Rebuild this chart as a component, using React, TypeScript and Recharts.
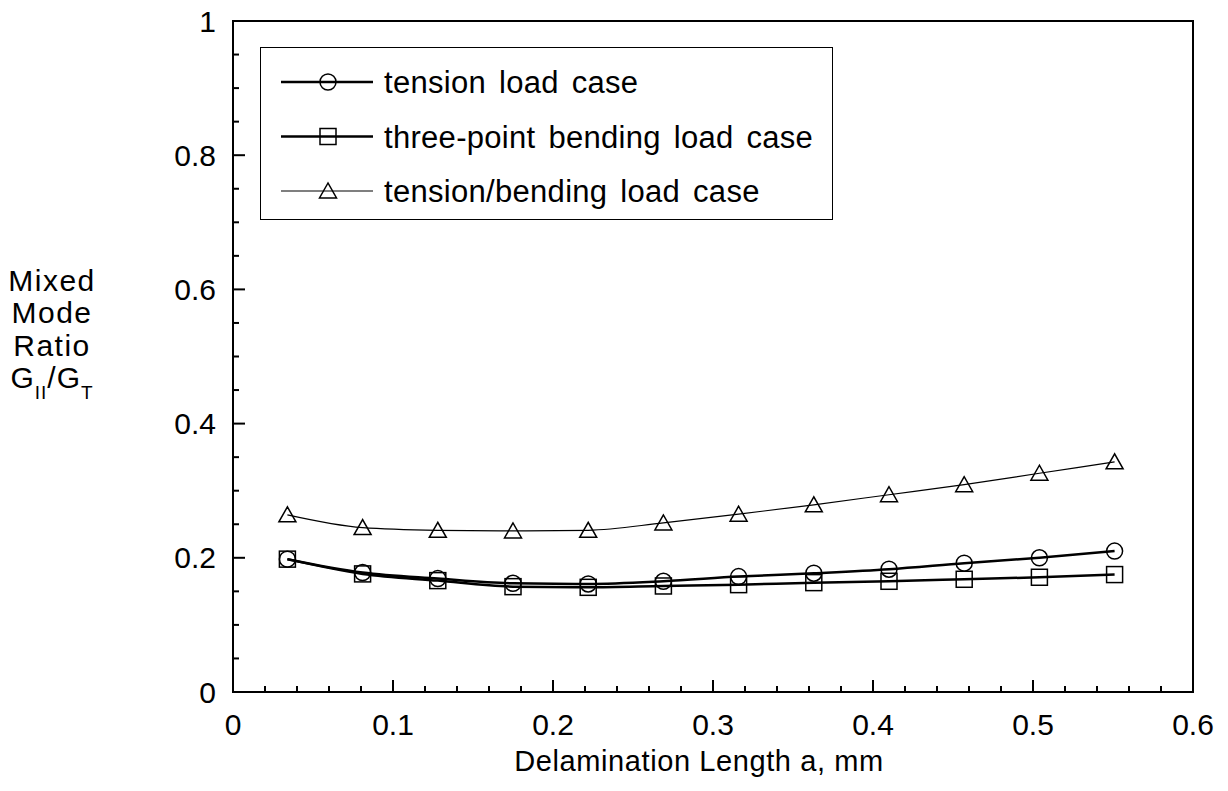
import React from 'react';
import { LineChart, Line, XAxis, YAxis, Legend, ReferenceArea } from 'recharts';

// delamination length a (mm) at each computed point
const xValues = [0.034, 0.081, 0.128, 0.175, 0.222, 0.269, 0.316, 0.363, 0.41, 0.457, 0.504, 0.551];
// mixed mode ratio GII/GT per load case
const tension = [0.198, 0.178, 0.169, 0.162, 0.161, 0.165, 0.172, 0.177, 0.183, 0.192, 0.2, 0.21];
const threePoint = [0.198, 0.176, 0.166, 0.157, 0.156, 0.158, 0.16, 0.163, 0.165, 0.168, 0.171, 0.175];
const tensionBending = [0.264, 0.245, 0.241, 0.24, 0.241, 0.252, 0.265, 0.279, 0.294, 0.309, 0.326, 0.343];

const seriesKeys = ['tension', 'threePoint', 'tensionBending'];
const seriesNames = ['tension load case', 'three-point bending load case', 'tension/bending load case'];

// axis ticks: majors get labels, minors only a short tick
const xMajor = [0, 0.1, 0.2, 0.3, 0.4, 0.5, 0.6];
const yMajor = [0, 0.2, 0.4, 0.6, 0.8, 1];
const xTicks = Array.from({ length: 31 }, (_, i) => Math.round(i * 2) / 100);
const yTicks = Array.from({ length: 21 }, (_, i) => Math.round(i * 5) / 100);

const data = xValues.map((x, i) => ({
  x,
  tension: tension[i],
  threePoint: threePoint[i],
  tensionBending: tensionBending[i],
}));

const FONT = '"Liberation Sans", Arial, Helvetica, sans-serif';
const isMajor = (v: number, majors: number[]) => majors.some((m) => Math.abs(m - v) < 1e-6);
const fmt = (v: number) => String(Number(v.toFixed(1)));

const XTick = (props: any) => {
  const { x, y, payload } = props;
  const v = payload.value as number;
  const major = isMajor(v, xMajor);
  return (
    <g>
      <line x1={x} x2={x} y1={y} y2={y - (major ? 12 : 6)} stroke="#000" strokeWidth={2} />
      {major && (
        <text x={x} y={y + 43} textAnchor="middle" fontFamily={FONT} fontSize={30} fill="#000">
          {fmt(v)}
        </text>
      )}
    </g>
  );
};

const YTick = (props: any) => {
  const { x, y, payload } = props;
  const v = payload.value as number;
  const major = isMajor(v, yMajor);
  return (
    <g>
      <line x1={x} x2={x + (major ? 12 : 6)} y1={y} y2={y} stroke="#000" strokeWidth={2} />
      {major && (
        <text x={x - 17} y={y + 10.5} textAnchor="end" fontFamily={FONT} fontSize={30} fill="#000">
          {fmt(v)}
        </text>
      )}
    </g>
  );
};

type Shape = 'circle' | 'square' | 'triangle';

const marker = (shape: Shape, cx: number, cy: number, key?: any) => {
  if (shape === 'circle') {
    return <circle key={key} cx={cx} cy={cy} r={8} fill="none" stroke="#000" strokeWidth={1.5} />;
  }
  if (shape === 'square') {
    return <rect key={key} x={cx - 8} y={cy - 8} width={16} height={16} fill="none" stroke="#000" strokeWidth={1.5} />;
  }
  return (
    <polygon
      key={key}
      points={`${cx},${cy - 8} ${cx - 8.5},${cy + 7} ${cx + 8.5},${cy + 7}`}
      fill="none"
      stroke="#000"
      strokeWidth={1.5}
    />
  );
};

const seriesStyle: Record<string, { shape: Shape; width: number }> = {
  tension: { shape: 'circle', width: 2.5 },
  threePoint: { shape: 'square', width: 2.5 },
  tensionBending: { shape: 'triangle', width: 1.2 },
};

const renderLegend = (props: any) => {
  const payload = [...(props.payload || [])].sort(
    (a: any, b: any) => seriesKeys.indexOf(a.dataKey) - seriesKeys.indexOf(b.dataKey)
  );
  return (
    <svg width={573} height={173} style={{ display: 'block' }}>
      {payload.map((entry: any, i: number) => {
        const st = seriesStyle[entry.dataKey as string];
        const cy = 34 + i * 54.5;
        return (
          <g key={entry.value}>
            <line x1={20} x2={112} y1={cy} y2={cy} stroke="#000" strokeWidth={st.width} />
            {marker(st.shape, 67, cy)}
            <text
              x={123}
              y={cy + 11}
              fontFamily={FONT}
              fontSize={31}
              letterSpacing={0.3}
              wordSpacing={4}
              fill="#000"
            >
              {entry.value}
            </text>
          </g>
        );
      })}
    </svg>
  );
};

const YTitle = () => {
  const lines = ['Mixed', 'Mode', 'Ratio'];
  return (
    <g fontFamily={FONT} fill="#000">
      {lines.map((l, i) => (
        <text key={l} x={52} y={291 + i * 32.3} textAnchor="middle" fontSize={30} letterSpacing={1.5}>
          {l}
        </text>
      ))}
      <text x={52} y={388} textAnchor="middle" fontSize={30} letterSpacing={1}>
        G
        <tspan fontSize={19} dy={11}>II</tspan>
        <tspan fontSize={30} dy={-11}>/G</tspan>
        <tspan fontSize={19} dy={11}>T</tspan>
      </text>
    </g>
  );
};

const XTitle = () => (
  <text x={699} y={771} textAnchor="middle" fontFamily={FONT} fontSize={29} letterSpacing={0.6} fill="#000">
    Delamination Length a, mm
  </text>
);

export default function App() {
  return (
    <div style={{ position: 'absolute', left: 0, top: 0, width: 1228, height: 791, background: '#fff' }}>
      <LineChart width={1228} height={791} data={data} margin={{ top: 21, right: 35, left: 0, bottom: 0 }}>
        <XAxis
          dataKey="x"
          type="number"
          domain={[0, 0.6]}
          ticks={xTicks}
          interval={0}
          tickSize={0}
          tickMargin={0}
          tickLine={false}
          tick={<XTick />}
          height={99}
          axisLine={{ stroke: '#000', strokeWidth: 2 }}
          label={() => <XTitle />}
          allowDataOverflow
        />
        <YAxis
          type="number"
          domain={[0, 1]}
          ticks={yTicks}
          interval={0}
          tickSize={0}
          tickMargin={0}
          tickLine={false}
          tick={<YTick />}
          width={233}
          axisLine={{ stroke: '#000', strokeWidth: 2 }}
          label={() => <YTitle />}
          allowDataOverflow
        />
        <ReferenceArea x1={0} x2={0.6} y1={0} y2={1} fill="none" stroke="#000" strokeWidth={2} />
        <Line
          dataKey="tension"
          name={seriesNames[0]}
          type="monotone"
          stroke="#000"
          strokeWidth={2.5}
          dot={(p: any) => marker('circle', p.cx, p.cy, p.index)}
          activeDot={false}
          isAnimationActive={false}
        />
        <Line
          dataKey="threePoint"
          name={seriesNames[1]}
          type="monotone"
          stroke="#000"
          strokeWidth={2.5}
          dot={(p: any) => marker('square', p.cx, p.cy, p.index)}
          activeDot={false}
          isAnimationActive={false}
        />
        <Line
          dataKey="tensionBending"
          name={seriesNames[2]}
          type="monotone"
          stroke="#000"
          strokeWidth={1.2}
          dot={(p: any) => marker('triangle', p.cx, p.cy, p.index)}
          activeDot={false}
          isAnimationActive={false}
        />
        <Legend
          layout="vertical"
          align="center"
          verticalAlign="middle"
          content={renderLegend}
          wrapperStyle={{
            position: 'absolute',
            left: 260,
            top: 47,
            width: 573,
            height: 173,
            border: '1px solid #000',
            boxSizing: 'border-box',
            background: '#fff',
          }}
        />
      </LineChart>
    </div>
  );
}
